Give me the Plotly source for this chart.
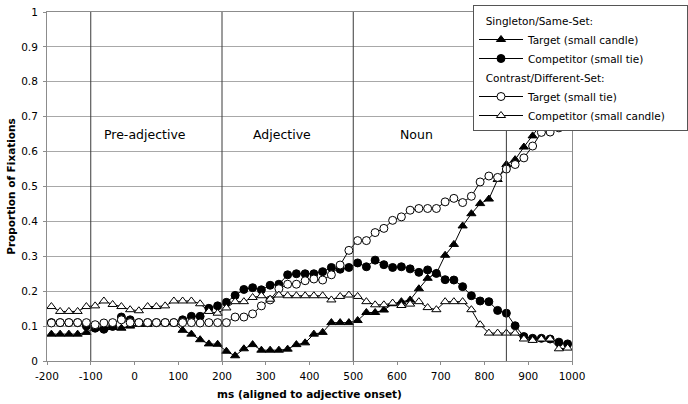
import plotly.graph_objects as go

# time bins (ms, aligned to adjective onset)
ms = [-190, -170, -150, -130, -110, -90, -70, -50, -30, -10,
      10, 30, 50, 70, 90, 110, 130, 150, 170, 190,
      210, 230, 250, 270, 290, 310, 330, 350, 370, 390,
      410, 430, 450, 470, 490, 510, 530, 550, 570, 590,
      610, 630, 650, 670, 690, 710, 730, 750, 770, 790,
      810, 830, 850, 870, 890, 910, 930, 950, 970, 990]

# Singleton/Same-Set
same_target = [0.077, 0.077, 0.077, 0.077, 0.082, 0.094, 0.095, 0.096, 0.094, 0.100,
               0.105, 0.105, 0.110, 0.110, 0.110, 0.088, 0.077, 0.061, 0.049, 0.048,
               0.028, 0.015, 0.035, 0.047, 0.031, 0.031, 0.031, 0.034, 0.047, 0.052,
               0.077, 0.082, 0.110, 0.110, 0.110, 0.116, 0.139, 0.139, 0.146, 0.164,
               0.170, 0.175, 0.207, 0.237, 0.251, 0.303, 0.334, 0.387, 0.422, 0.451,
               0.464, 0.520, 0.563, 0.577, 0.613, 0.645, 0.680, 0.690, 0.700, 0.710]
same_competitor = [0.110, 0.110, 0.110, 0.110, 0.100, 0.094, 0.091, 0.099, 0.126, 0.118,
                   0.110, 0.110, 0.110, 0.110, 0.110, 0.118, 0.128, 0.128, 0.151, 0.158,
                   0.168, 0.188, 0.205, 0.210, 0.204, 0.217, 0.220, 0.247, 0.250, 0.250,
                   0.250, 0.256, 0.268, 0.263, 0.268, 0.281, 0.270, 0.289, 0.276, 0.268,
                   0.270, 0.264, 0.254, 0.261, 0.251, 0.233, 0.232, 0.213, 0.187, 0.172,
                   0.170, 0.145, 0.137, 0.101, 0.070, 0.065, 0.065, 0.063, 0.054, 0.049]
# Contrast/Different-Set
diff_target = [0.109, 0.110, 0.110, 0.110, 0.110, 0.104, 0.109, 0.110, 0.118, 0.110,
               0.110, 0.110, 0.110, 0.110, 0.110, 0.110, 0.110, 0.109, 0.110, 0.110,
               0.110, 0.126, 0.126, 0.135, 0.158, 0.175, 0.207, 0.220, 0.220, 0.230,
               0.235, 0.232, 0.247, 0.275, 0.317, 0.345, 0.345, 0.368, 0.380, 0.403,
               0.413, 0.432, 0.437, 0.437, 0.437, 0.456, 0.466, 0.454, 0.472, 0.513,
               0.530, 0.526, 0.550, 0.563, 0.582, 0.616, 0.655, 0.656, 0.668, 0.672]
diff_competitor = [0.156, 0.142, 0.142, 0.142, 0.156, 0.158, 0.172, 0.162, 0.156, 0.147,
                   0.144, 0.156, 0.156, 0.158, 0.172, 0.172, 0.172, 0.164, 0.142, 0.137,
                   0.152, 0.170, 0.170, 0.182, 0.187, 0.177, 0.189, 0.187, 0.187, 0.187,
                   0.187, 0.187, 0.175, 0.185, 0.189, 0.185, 0.170, 0.161, 0.161, 0.166,
                   0.159, 0.163, 0.170, 0.153, 0.147, 0.170, 0.170, 0.170, 0.147, 0.104,
                   0.080, 0.080, 0.080, 0.080, 0.063, 0.059, 0.063, 0.063, 0.035, 0.037]

region_bounds = [-100, 200, 500, 850]
region_names = ["Pre-adjective", "Adjective", "Noun"]
region_label_x = [25, 338, 644]
region_label_y = 0.65

x_tickvals = [-200, -100, 0, 100, 200, 300, 400, 500, 600, 700, 800, 900, 1000]
x_ticktext = ["-200", "-100", "0", "100", "200", "300", "400", "500", "600", "700", "800", "900", "1000"]
y_tickvals = [0, 0.1, 0.2, 0.3, 0.4, 0.5, 0.6, 0.7, 0.8, 0.9, 1]
y_ticktext = ["0", "0.1", "0.2", "0.3", "0.4", "0.5", "0.6", "0.7", "0.8", "0.9", "1"]

FONT = "DejaVu Sans"
PAD = "\u00a0" * 5  # widens the legend box slightly, as in the original

fig = go.Figure()

series = [
    ("same", "Singleton/Same-Set:", "Target (small candle)", same_target, "triangle-up", "black"),
    ("same", "Singleton/Same-Set:", "Competitor (small tie)", same_competitor, "circle", "black"),
    ("diff", "Contrast/Different-Set:", "Target (small tie)", diff_target, "circle", "white"),
    ("diff", "Contrast/Different-Set:", "Competitor (small candle)" + PAD, diff_competitor, "triangle-up", "white"),
]
for grp, gtitle, name, vals, sym, fill in series:
    fig.add_trace(go.Scatter(
        x=ms, y=vals, name=name, mode="lines+markers",
        legendgroup=grp, legendgrouptitle=dict(text="\u00a0\u00a0" + gtitle, font=dict(family=FONT, size=10.5, color="black")),
        line=dict(color="black", width=1),
        marker=dict(symbol=sym, size=8, color=fill,
                    line=dict(color="black", width=1)),
    ))

for b in region_bounds:
    fig.add_vline(x=b, line=dict(color="#3a3a3a", width=1), layer="above")

for name, lx in zip(region_names, region_label_x):
    fig.add_annotation(x=lx, y=region_label_y, text=name, showarrow=False,
                       font=dict(family=FONT, size=12.5, color="black"))

fig.update_layout(
    width=688, height=404,
    margin=dict(l=47, r=116, t=12, b=43, autoexpand=False),
    paper_bgcolor="white", plot_bgcolor="white",
    font=dict(family=FONT, size=10.5, color="black"),
    showlegend=True,
    legend=dict(
        xref="container", yref="container",
        x=473 / 688, y=1 - 5 / 404, xanchor="left", yanchor="top",
        bgcolor="white", bordercolor="#555555", borderwidth=1,
        font=dict(family=FONT, size=10.5, color="black"),
        tracegroupgap=0, traceorder="grouped", itemwidth=44,
    ),
    xaxis=dict(
        range=[-200, 1000], tickvals=x_tickvals, ticktext=x_ticktext, automargin=False,
        showgrid=False, zeroline=False, showline=True, linecolor="#8c8c8c", linewidth=1,
        mirror=True, ticks="outside", ticklen=3, tickcolor="#8c8c8c", ticklabelstandoff=2,
        title=dict(text="<b>ms (aligned to adjective onset)</b>", font=dict(family=FONT, size=10.5), standoff=10),
        tickfont=dict(family=FONT, size=10.5),
    ),
    yaxis=dict(
        range=[0, 1], tickvals=y_tickvals, ticktext=y_ticktext, automargin=False,
        showgrid=True, gridcolor="#a8a8a8", gridwidth=1, zeroline=False,
        showline=True, linecolor="#8c8c8c", linewidth=1, mirror=True,
        ticks="outside", ticklen=3, tickcolor="#8c8c8c", ticklabelstandoff=3,
        title=dict(text="<b>Proportion of Fixations</b>", font=dict(family=FONT, size=10.5), standoff=3),
        tickfont=dict(family=FONT, size=10.5),
    ),
)

fig.write_html("out.html", config={"displayModeBar": False},
               post_script="document.body.style.margin='0';")
